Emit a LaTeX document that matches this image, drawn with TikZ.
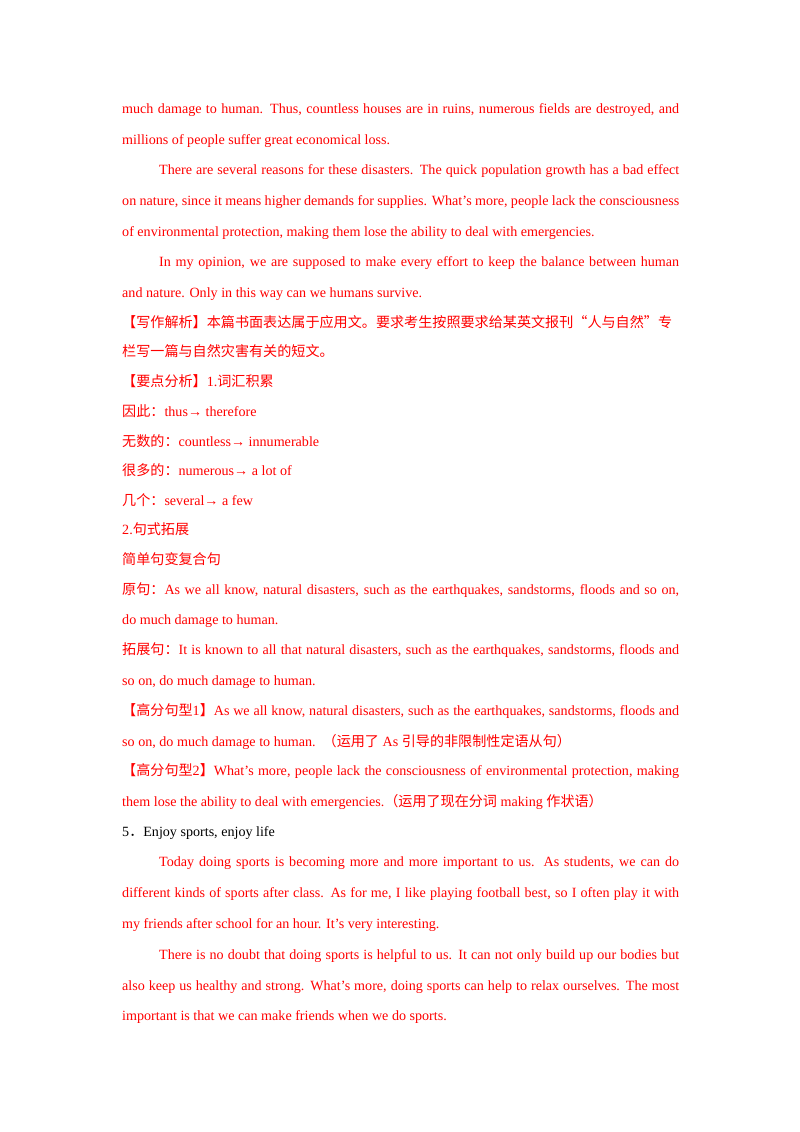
\documentclass[tikz,border=0pt]{standalone}
\usepackage{fontspec}
\setmainfont{Liberation Serif}
\newfontfamily\cjk{Noto Sans CJK SC}
\definecolor{txr}{RGB}{255,0,0}
\newcommand\tl[3]{\node[anchor=base west,inner sep=0pt,txr] (n#2) at (#1pt,-#2pt) {#3};}
\newcommand\tk[3]{\node[anchor=base west,inner sep=0pt] (n#2) at (#1pt,-#2pt) {#3};}
\newcommand\jl[3]{\node[anchor=base west,inner sep=0pt,txr] (n#2) at (#1pt,-#2pt) {\hbox to \dimexpr679pt-#1pt\relax{#3}};}
\newcommand\C[1]{{\cjk #1}}
\begin{document}
\begin{tikzpicture}[x=1pt,y=1pt,font=\fontsize{14.1}{17}\selectfont]
\useasboundingbox[fill=white] (0,0) rectangle (800,-1132);
\jl{122}{113}{much damage to human. Thus, countless houses are in ruins, numerous fields are destroyed, and}
\tl{122}{144}{millions of people suffer great economical loss.}
\jl{159}{174}{There are several reasons for these disasters. The quick population growth has a bad effect}
\jl{122}{205}{on nature, since it means higher demands for supplies. What’s more, people lack the consciousness}
\tl{122}{236}{of environmental protection, making them lose the ability to deal with emergencies.}
\jl{159}{266}{In my opinion, we are supposed to make every effort to keep the balance between human}
\tl{122}{297}{and nature. Only in this way can we humans survive.}
\jl{122}{327}{\C{【写作解析】本篇书面表达属于应用文。要求考生按照要求给某英文报刊“人与自然”专}}
\tl{122}{356}{\C{栏写一篇与自然灾害有关的短文。}}
\tl{122}{386}{\C{【要点分析】}1.\C{词汇积累}}
\tl{122}{416}{\C{因此：}thus→ therefore}
\tl{122}{446}{\C{无数的：}countless→ innumerable}
\tl{122}{475}{\C{很多的：}numerous→ a lot of}
\tl{122}{505}{\C{几个：}several→ a few}
\tl{122}{534}{2.\C{句式拓展}}
\tl{122}{564}{\C{简单句变复合句}}
\jl{122}{594}{\C{原句：}As we all know, natural disasters, such as the earthquakes, sandstorms, floods and so on,}
\tl{122}{624}{do much damage to human.}
\jl{122}{654}{\C{拓展句：}It is known to all that natural disasters, such as the earthquakes, sandstorms, floods and}
\tl{122}{685}{so on, do much damage to human.}
\jl{122}{715}{\C{【高分句型}1\C{】}As we all know, natural disasters, such as the earthquakes, sandstorms, floods and}
\tl{122}{746}{so on, do much damage to human.\ \ \C{（运用了} As \C{引导的非限制性定语从句）}}
\jl{122}{775}{\C{【高分句型}2\C{】}What’s more, people lack the consciousness of environmental protection, making}
\tl{122}{806}{them lose the ability to deal with emergencies.\C{（运用了现在分词} making \C{作状语）}}
\tk{122}{836}{5\C{．}Enjoy sports, enjoy life}
\jl{159}{866}{Today doing sports is becoming more and more important to us. As students, we can do}
\jl{122}{897}{different kinds of sports after class. As for me, I like playing football best, so I often play it with}
\tl{122}{928}{my friends after school for an hour. It’s very interesting.}
\jl{159}{959}{There is no doubt that doing sports is helpful to us. It can not only build up our bodies but}
\jl{122}{990}{also keep us healthy and strong. What’s more, doing sports can help to relax ourselves. The most}
\tl{122}{1020}{important is that we can make friends when we do sports.}
\end{tikzpicture}
\end{document}
